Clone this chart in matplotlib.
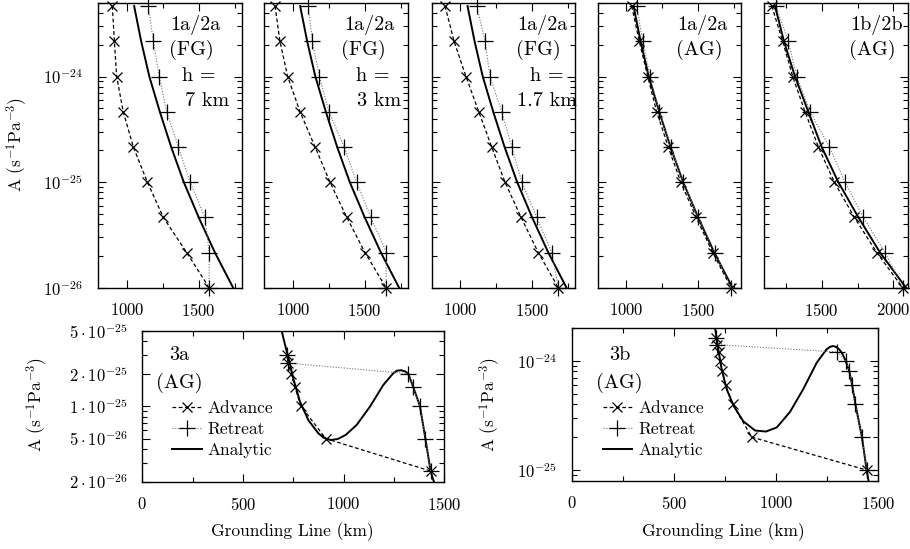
import matplotlib.pyplot as plt
from matplotlib.ticker import MultipleLocator, FixedLocator, FixedFormatter, NullFormatter

plt.rcParams['font.family'] = 'cmr10'
plt.rcParams['mathtext.fontset'] = 'cm'
plt.rcParams['axes.formatter.use_mathtext'] = True
plt.rcParams['axes.unicode_minus'] = False

# rate factor steps for experiments 1 and 2
A_exp12 = [4.6416e-24, 2.1544e-24, 1.0e-24, 4.6416e-25, 2.1544e-25,
           1.0e-25, 4.6416e-26, 2.1544e-26, 1.0e-26]

# grounding line positions (km), fixed grid runs
adv_fg_7km = [898, 912, 928, 974, 1044, 1142, 1253, 1416, 1573]
ret_fg_7km = [1149, 1184, 1225, 1277, 1358, 1440, 1544, 1573, 1573]
adv_fg_3km = [875, 909, 963, 1049, 1154, 1258, 1375, 1502, 1649]
ret_fg_3km = [1107, 1135, 1184, 1251, 1356, 1444, 1542, 1652, 1649]
adv_fg_17km = [893, 956, 1039, 1128, 1218, 1311, 1423, 1543, 1683]
ret_fg_17km = [1114, 1172, 1207, 1288, 1358, 1428, 1532, 1637, 1683]
# adaptive grid runs
adv_ag_1a = [1037, 1090, 1149, 1211, 1292, 1379, 1486, 1602, 1730]
ret_ag_1a = [1072, 1114, 1165, 1230, 1309, 1397, 1502, 1618, 1730]
adv_ag_1b = [1152, 1228, 1298, 1384, 1477, 1588, 1728, 1884, 2065]
ret_ag_1b = [1182, 1267, 1326, 1419, 1553, 1663, 1790, 1942, 2065]
# boundary layer solution
ana_1a = [1050, 1099, 1156, 1229, 1308, 1396, 1500, 1613, 1740]
ana_1b = [1175, 1237, 1314, 1407, 1500, 1616, 1756, 1907, 2088]

# experiment 3a
A_3a_adv = [3.0e-25, 2.5e-25, 2.0e-25, 1.5e-25, 1.0e-25, 5.0e-26, 2.5e-26]
x_3a_adv = [717, 725, 739, 758, 788, 911, 1432]
A_3a_ret = [2.5e-26, 5.0e-26, 1.0e-25, 1.5e-25, 2.0e-25, 2.5e-25, 3.0e-25]
x_3a_ret = [1432, 1406, 1379, 1346, 1321, 725, 717]
x_3a_ana = [692, 709, 730, 750, 783, 825, 874, 900, 935, 970, 1010, 1065,
            1131, 1197, 1247, 1265, 1285, 1305, 1321, 1346, 1379, 1406,
            1432, 1448]
A_3a_ana = [5.0e-25, 3.7e-25, 2.6e-25, 1.8e-25, 1.1e-25, 7.4e-26, 5.6e-26,
            5.1e-26, 4.85e-26, 4.95e-26, 5.4e-26, 6.7e-26, 9.9e-26, 1.57e-25,
            2.02e-25, 2.13e-25, 2.15e-25, 2.1e-25, 2.0e-25, 1.5e-25, 1.0e-25,
            5.0e-26, 2.5e-26, 2.0e-26]

# experiment 3b
A_3b_adv = [1.6e-24, 1.4e-24, 1.2e-24, 1.0e-24, 8.0e-25, 6.0e-25, 4.0e-25, 2.0e-25, 1.0e-25]
x_3b_adv = [707, 712, 719, 726, 736, 753, 787, 881, 1443]
A_3b_ret = [1.0e-25, 2.0e-25, 4.0e-25, 6.0e-25, 8.0e-25, 1.0e-24, 1.2e-24, 1.4e-24, 1.6e-24]
x_3b_ret = [1443, 1420, 1388, 1372, 1358, 1340, 1300, 713, 707]
x_3b_ana = [701, 709, 717, 734, 758, 791, 839, 897, 950, 1003, 1068, 1133,
            1199, 1247, 1265, 1280, 1295, 1310, 1325, 1340, 1358, 1372, 1388,
            1420, 1443, 1452]
A_3b_ana = [2.0e-24, 1.6e-24, 1.27e-24, 8.3e-25, 5.5e-25, 3.9e-25, 2.8e-25,
            2.3e-25, 2.25e-25, 2.45e-25, 3.4e-25, 5.5e-25, 9.6e-25, 1.27e-24,
            1.34e-24, 1.36e-24, 1.33e-24, 1.26e-24, 1.15e-24, 1.0e-24, 8.0e-25,
            6.0e-25, 4.0e-25, 2.0e-25, 1.0e-25, 8.0e-26]

W, H = 910, 549
fig = plt.figure(figsize=(W / 100, H / 100), dpi=100)


def add_ax(x0, y0, x1, y1):
    return fig.add_axes([x0 / W, 1 - y1 / H, (x1 - x0) / W, (y1 - y0) / H])


def style(ax):
    ax.tick_params(which='both', direction='in', top=True, right=True,
                   width=0.8, labelsize=12)
    ax.tick_params(which='major', length=6)
    ax.tick_params(which='minor', length=3.5)
    ax.tick_params(axis='x', pad=10.5)
    ax.tick_params(axis='y', pad=11)
    for s in ax.spines.values():
        s.set_linewidth(1.0)


def draw(ax, x_adv, A_adv, x_ret, A_ret, x_ana, A_ana):
    h1, = ax.plot(x_adv, A_adv, color='k', lw=0.9, dashes=(3, 2), marker='x',
                  ms=7.5, mew=0.9, clip_on=False, label='Advance', zorder=3)
    h2, = ax.plot(x_ret, A_ret, color='0.45', lw=0.8, dashes=(1, 1.5), marker='+',
                  ms=11, mew=0.9, mec='k', clip_on=False, label='Retreat', zorder=3)
    h3, = ax.plot(x_ana, A_ana, color='k', lw=1.4, label='Analytic', zorder=2)
    return [h1, h2, h3]


top_lefts = [98.3, 264.3, 431.7, 597.7, 764.3]
top_runs = [
    (adv_fg_7km, ret_fg_7km, ana_1a, (800, 1800), ['1a/2a', '(FG)', 'h =', '7 km'],
     [97.5, 93.2, 100.7, 109.2]),
    (adv_fg_3km, ret_fg_3km, ana_1a, (800, 1800), ['1a/2a', '(FG)', 'h =', '3 km'],
     [104.9, 99.5, 108.7, 114.5]),
    (adv_fg_17km, ret_fg_17km, ana_1a, (800, 1800), ['1a/2a', '(FG)', 'h =', '1.7 km'],
     [110.5, 107.1, 114.6, 115.5]),
    (adv_ag_1a, ret_ag_1a, ana_1a, (800, 1800), ['1a/2a', '(AG)'], [104.8, 101.5]),
    (adv_ag_1b, ret_ag_1b, ana_1b, (1100, 2100), ['1b/2b', '(AG)'], [112, 108.4]),
]
label_rows = [25, 50, 76.5, 101.5]

for i, (left, (adv, ret, ana, xl, labels, offs)) in enumerate(zip(top_lefts, top_runs)):
    ax = add_ax(left, 2.7, left + 143.4, 287.7)
    draw(ax, adv, A_exp12, ret, A_exp12, ana, A_exp12)
    ax.set_yscale('log')
    ax.set_ylim(1e-26, 5e-24)
    ax.set_xlim(*xl)
    ax.xaxis.set_major_locator(MultipleLocator(500))
    ax.xaxis.set_minor_locator(MultipleLocator(250))
    ax.yaxis.set_major_locator(FixedLocator([1e-26, 1e-25, 1e-24]))
    ax.yaxis.set_minor_locator(FixedLocator(
        [m * 10.0 ** e for e in (-26, -25, -24) for m in range(2, 10)]))
    ax.yaxis.set_minor_formatter(NullFormatter())
    if i == 0:
        ax.yaxis.set_major_formatter(FixedFormatter(
            [r'$10^{-26}$', r'$10^{-25}$', r'$10^{-24}$']))
    else:
        ax.yaxis.set_major_formatter(NullFormatter())
    style(ax)
    for txt, off, yy in zip(labels, offs, label_rows):
        fig.text((left + off) / W, 1 - yy / H, txt, ha='center', va='center',
                 fontsize=14.5)

fig.text(16.7 / W, 1 - 145 / H, r'A (s$^{-1}$Pa$^{-3}$)', rotation=90,
         ha='center', va='center', fontsize=12.5)

# experiment 3 panels
bottom = [
    ((142.3, 330.7, 444.3, 481.5), x_3a_adv, A_3a_adv, x_3a_ret, A_3a_ret,
     x_3a_ana, A_3a_ana, (2e-26, 5e-25), '3a', 36.7, 179, 172, 292.5),
    ((571.7, 327.7, 878.3, 480.7), x_3b_adv, A_3b_adv, x_3b_ret, A_3b_ret,
     x_3b_ana, A_3b_ana, (8e-26, 2e-24), '3b', 490, 619.3, 602.7, 723.3),
]

for box, xa, Aa, xr, Ar, xn, An, yl, name, ylab_x, name_x, leg_x, xlab_x in bottom:
    ax = add_ax(*box)
    handles = draw(ax, xa, Aa, xr, Ar, xn, An)
    ax.set_yscale('log')
    ax.set_ylim(*yl)
    ax.set_xlim(0, 1500)
    ax.xaxis.set_major_locator(MultipleLocator(500))
    ax.xaxis.set_minor_locator(MultipleLocator(250))
    if name == '3a':
        major = [2e-26, 5e-26, 1e-25, 2e-25, 5e-25]
        ax.yaxis.set_major_locator(FixedLocator(major))
        ax.yaxis.set_major_formatter(FixedFormatter(
            [r'$2\cdot10^{-26}$', r'$5\cdot10^{-26}$', r'$1\cdot10^{-25}$',
             r'$2\cdot10^{-25}$', r'$5\cdot10^{-25}$']))
        minor = [3e-26, 4e-26, 6e-26, 7e-26, 8e-26, 9e-26, 3e-25, 4e-25]
    else:
        ax.yaxis.set_major_locator(FixedLocator([1e-25, 1e-24]))
        ax.yaxis.set_major_formatter(FixedFormatter([r'$10^{-25}$', r'$10^{-24}$']))
        minor = [8e-26, 9e-26] + [m * 1e-25 for m in range(2, 10)] + [2e-24]
    ax.yaxis.set_minor_locator(FixedLocator(minor))
    ax.yaxis.set_minor_formatter(NullFormatter())
    style(ax)

    fig.text(name_x / W, 1 - 355 / H, name, ha='center', va='center', fontsize=14.5)
    fig.text(name_x / W, 1 - 383 / H, '(AG)', ha='center', va='center', fontsize=14.5)
    fig.legend(handles=handles, loc='upper left', bbox_to_anchor=(leg_x / W, 1 - 401 / H),
               frameon=False, fontsize=12.5, numpoints=1, handlelength=1.7,
               handletextpad=0.35, labelspacing=0.32, borderpad=0, borderaxespad=0)
    fig.text(ylab_x / W, 1 - 405 / H, r'A (s$^{-1}$Pa$^{-3}$)', rotation=90,
             ha='center', va='center', fontsize=12.5)
    fig.text(xlab_x / W, 1 - 532 / H, 'Grounding Line (km)', ha='center',
             va='center', fontsize=12.5)

fig.savefig('out.png', dpi=100)
